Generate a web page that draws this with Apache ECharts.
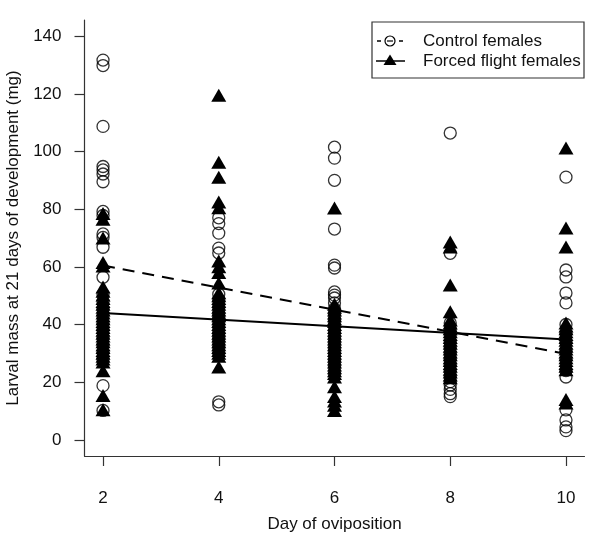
<!DOCTYPE html>
<html>
<head>
<meta charset="utf-8">
<script src="https://cdn.jsdelivr.net/npm/echarts@6/dist/echarts.min.js"></script>
<style>html,body{margin:0;padding:0;background:#fff}#c{width:600px;height:547px}</style>
</head>
<body>
<div id="c"></div>
<script>
// Days of oviposition
var days = [2, 4, 6, 8, 10];
// Control females (open circles), per day
var control2 = [131.7, 129.8, 108.7, 94.8, 93.6, 92.2, 89.5, 79.2, 77.8, 71.4, 70.2, 66.8, 56.4, 50.5, 48, 45.5, 43, 40.5, 38, 35.5, 33, 30.5, 28, 18.8, 10.2];
var control4 = [77, 75, 71.7, 66.5, 64.8, 50.5, 48.5, 46, 44, 42.5, 41, 39, 37, 35.5, 34, 32, 30, 13.2, 12.1];
var control6 = [101.5, 97.7, 90, 73.1, 60.6, 59.6, 51.3, 50.2, 49.2, 47.5, 45.5, 43.5, 41.5, 39.5, 37.5, 35.5, 33.5, 31.5, 29.5, 27.5, 25.5, 23];
var control8 = [106.4, 64.7, 40.5, 38.5, 36.5, 34, 32, 30, 28, 26, 24, 22, 20.2, 19, 17.5, 16, 15];
var control10 = [91.1, 58.9, 56.5, 50.9, 47.5, 40, 37, 34, 31, 28, 24, 21.8, 10.4, 6.9, 4.5, 3.2];
// Forced flight females (filled triangles), per day
var forced2 = [78.5, 76.5, 70, 61.5, 60.3, 53, 51.5, 50.2, 49, 48, 47, 46, 45, 44, 43, 42, 41, 40, 39, 38, 37, 36, 35, 34, 33, 32, 31, 30, 29, 28, 27, 24, 15.4, 10.4];
var forced4 = [119.5, 96.3, 91.1, 82.5, 80.5, 62, 60, 58, 54.4, 51, 50, 49, 48, 47, 46, 45, 44, 43, 42, 41, 40, 39, 38, 37, 36, 35, 34, 33, 32, 31, 30, 29, 25.3];
var forced6 = [80.4, 47, 46, 45, 44, 43, 42, 41, 40, 39, 38, 37, 36, 35, 34, 33, 32, 31, 30, 29, 28, 27, 26, 25, 24, 23, 21.8, 18.4, 15, 13.5, 12, 10.2];
var forced8 = [68.6, 66.9, 53.7, 44.4, 41.6, 40.5, 39.5, 38.5, 37.5, 36.5, 35.5, 34.5, 33.5, 32.5, 31.5, 30.5, 29.5, 28.5, 27.5, 26.5, 25.5, 24.5, 23.5, 22.5, 21.5];
var forced10 = [101.2, 73.5, 66.9, 40.5, 39.5, 38.5, 37.5, 36.5, 35.5, 34.5, 33.5, 32.5, 31.5, 30.5, 29.5, 28.5, 27.5, 26.5, 25.5, 24.3, 14, 12.8];
// Fitted regression lines: values at day 2 and day 10
var fitDays = [2, 10];
var controlFit = [60.5, 29.8];
var forcedFit = [44, 34.8];
// Tick labels
var xTicks = [2, 4, 6, 8, 10];
var yTicks = [0, 20, 40, 60, 80, 100, 120, 140];

var controlByDay = [control2, control4, control6, control8, control10];
var forcedByDay = [forced2, forced4, forced6, forced8, forced10];
function pairs(byDay) {
  var out = [];
  days.forEach(function (d, i) { byDay[i].forEach(function (v) { out.push([d, v]); }); });
  return out;
}
function fitPairs(vals) { return fitDays.map(function (d, i) { return [d, vals[i]]; }); }

var FONT = '"Liberation Sans", Arial, sans-serif';
var FS = 17;
var chart = echarts.init(document.getElementById('c'), null, {renderer: 'canvas'});
chart.setOption({
  animation: false,
  backgroundColor: '#fff',
  grid: {left: 84.5, right: 15.5, top: 20, bottom: 91, containLabel: false, outerBoundsMode: 'none'},
  xAxis: {
    type: 'value', min: 1.68, max: 10.32,
    name: 'Day of oviposition', nameLocation: 'middle', nameGap: 60,
    nameTextStyle: {fontFamily: FONT, fontSize: FS, color: '#111'},
    axisLine: {show: true, onZero: false, lineStyle: {color: '#333', width: 1.2}},
    axisTick: {show: true, length: 10, inside: false, customValues: xTicks, lineStyle: {color: '#333', width: 1.2}},
    axisLabel: {customValues: xTicks, margin: 34, fontFamily: FONT, fontSize: FS, color: '#111'},
    splitLine: {show: false}
  },
  yAxis: {
    type: 'value', min: -5.6, max: 145.6,
    name: 'Larval mass at 21 days of development (mg)', nameLocation: 'middle', nameGap: 56,
    nameTextStyle: {fontFamily: FONT, fontSize: FS, color: '#111'},
    axisLine: {show: true, onZero: false, lineStyle: {color: '#333', width: 1.2}},
    axisTick: {show: true, length: 10, customValues: yTicks, lineStyle: {color: '#333', width: 1.2}},
    axisLabel: {customValues: yTicks, margin: 23, fontFamily: FONT, fontSize: FS, color: '#111'},
    splitLine: {show: false}
  },
  series: [
    {
      name: 'Control females', type: 'scatter', data: pairs(controlByDay),
      symbol: 'circle', symbolSize: 12,
      itemStyle: {color: 'rgba(0,0,0,0)', borderColor: '#000', borderWidth: 1.3}
    },
    {
      name: 'Forced flight females', type: 'scatter', data: pairs(forcedByDay),
      symbol: 'triangle', symbolSize: [15, 13],
      itemStyle: {color: '#000', borderWidth: 0, opacity: 1}
    },
    {
      name: 'Control fit', type: 'line', data: fitPairs(controlFit), showSymbol: false,
      lineStyle: {color: '#000', width: 2, type: [12, 8]}
    },
    {
      name: 'Forced fit', type: 'line', data: fitPairs(forcedFit), showSymbol: false,
      lineStyle: {color: '#000', width: 2}
    }
  ],
  graphic: [
    {type: 'rect', shape: {x: 372, y: 22, width: 212, height: 56}, style: {fill: '#fff', stroke: '#333', lineWidth: 1.2}, z: 100},
    {type: 'line', shape: {x1: 377, y1: 41, x2: 381, y2: 41}, style: {stroke: '#000', lineWidth: 1.5}, z: 101},
    {type: 'line', shape: {x1: 399, y1: 41, x2: 403, y2: 41}, style: {stroke: '#000', lineWidth: 1.5}, z: 101},
    {type: 'circle', shape: {cx: 390, cy: 41, r: 5}, style: {fill: 'rgba(0,0,0,0)', stroke: '#000', lineWidth: 1.2}, z: 101},
    {type: 'line', shape: {x1: 387, y1: 41, x2: 393, y2: 41}, style: {stroke: '#000', lineWidth: 1.2}, z: 101},
    {type: 'text', x: 423, y: 41, style: {text: 'Control females', font: FS + 'px ' + FONT, fill: '#111', textVerticalAlign: 'middle'}, z: 101},
    {type: 'line', shape: {x1: 376, y1: 61, x2: 405, y2: 61}, style: {stroke: '#000', lineWidth: 1.5}, z: 101},
    {type: 'polygon', shape: {points: [[390, 54.5], [396.5, 65], [383.5, 65]]}, style: {fill: '#000'}, z: 101},
    {type: 'text', x: 423, y: 61, style: {text: 'Forced flight females', font: FS + 'px ' + FONT, fill: '#111', textVerticalAlign: 'middle'}, z: 101}
  ]
});
</script>
</body>
</html>
